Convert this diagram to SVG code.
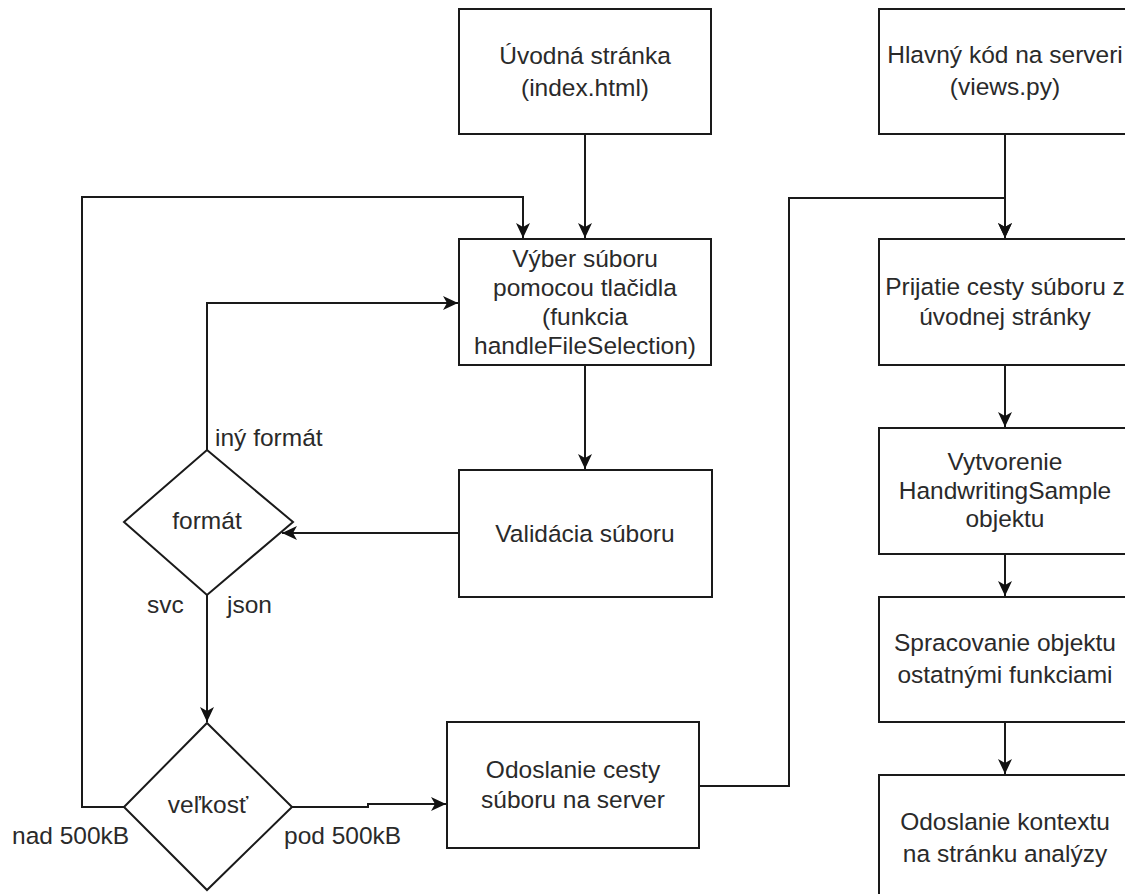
<svg xmlns="http://www.w3.org/2000/svg" width="1125" height="894" viewBox="0 0 1125 894">
<style>
.box{fill:#fff;stroke:#1a1a1a;stroke-width:2}
.t{font-family:"Liberation Sans",Arial,sans-serif;font-size:24.5px;fill:#2a2a2a;text-anchor:middle}
.l{font-family:"Liberation Sans",Arial,sans-serif;font-size:24.5px;fill:#2a2a2a}
.c{fill:none;stroke:#1a1a1a;stroke-width:2}
</style>
<defs>
<marker id="ah" markerUnits="userSpaceOnUse" markerWidth="16" markerHeight="14" refX="15" refY="7" orient="auto">
<path d="M0,0 L15,7 L0,14 L4,7 z" fill="#111"/>
</marker>
</defs>
<rect width="1125" height="894" fill="#fff"/>
<g id="connectors">
<path class="c" d="M585,134 V238" marker-end="url(#ah)"/>
<path class="c" d="M585,365 V469" marker-end="url(#ah)"/>
<path class="c" d="M459,533 H282" marker-end="url(#ah)"/>
<path class="c" d="M207,450 V303 H458" marker-end="url(#ah)"/>
<path class="c" d="M207,595 V722" marker-end="url(#ah)"/>
<path class="c" d="M124,807 H82 V197 H523 V238" marker-end="url(#ah)"/>
<path class="c" d="M292,807 H368 V804 H446" marker-end="url(#ah)"/>
<path class="c" d="M699,786 H789 V198 H1005 V238" marker-end="url(#ah)"/>
<path class="c" d="M1005,134 V238" marker-end="url(#ah)"/>
<path class="c" d="M1005,365 V427" marker-end="url(#ah)"/>
<path class="c" d="M1005,554 V596" marker-end="url(#ah)"/>
<path class="c" d="M1005,722 V774" marker-end="url(#ah)"/>
</g>
<g id="uvodna">
<rect class="box" x="459" y="9" width="252" height="125"/>
<text class="t" x="585" y="64">Úvodná stránka</text>
<text class="t" x="585" y="96">(index.html)</text>
</g>
<g id="vyber">
<rect class="box" x="459" y="239" width="252" height="126"/>
<text class="t" x="585" y="267">Výber súboru</text>
<text class="t" x="585" y="296">pomocou tlačidla</text>
<text class="t" x="585" y="325">(funkcia</text>
<text class="t" x="585" y="354">handleFileSelection)</text>
</g>
<g id="validacia">
<rect class="box" x="459" y="470" width="253" height="127"/>
<text class="t" x="585" y="542">Validácia súboru</text>
</g>
<g id="format">
<polygon class="box" points="207,450 293,522 207,595 124,522"/>
<text class="t" x="207" y="529">formát</text>
<text class="l" x="215" y="446">iný formát</text>
<text class="l" x="147" y="613">svc</text>
<text class="l" x="227" y="613">json</text>
</g>
<g id="velkost">
<polygon class="box" points="207,723 292,807 207,890 124,807"/>
<text class="t" x="208" y="813">veľkosť</text>
<text class="l" x="12" y="844">nad 500kB</text>
<text class="l" x="284" y="844">pod 500kB</text>
</g>
<g id="odoslanie-cesty">
<rect class="box" x="447" y="722" width="252" height="126"/>
<text class="t" x="573" y="778">Odoslanie cesty</text>
<text class="t" x="573" y="808">súboru na server</text>
</g>
<g id="hlavny">
<rect class="box" x="879" y="9" width="252" height="125"/>
<text class="t" x="1005" y="63">Hlavný kód na serveri</text>
<text class="t" x="1005" y="95">(views.py)</text>
</g>
<g id="prijatie">
<rect class="box" x="879" y="239" width="252" height="126"/>
<text class="t" x="1005" y="295">Prijatie cesty súboru z</text>
<text class="t" x="1005" y="325">úvodnej stránky</text>
</g>
<g id="vytvorenie">
<rect class="box" x="879" y="428" width="252" height="126"/>
<text class="t" x="1005" y="470">Vytvorenie</text>
<text class="t" x="1005" y="499">HandwritingSample</text>
<text class="t" x="1005" y="527">objektu</text>
</g>
<g id="spracovanie">
<rect class="box" x="879" y="597" width="252" height="125"/>
<text class="t" x="1005" y="651">Spracovanie objektu</text>
<text class="t" x="1005" y="683">ostatnými funkciami</text>
</g>
<g id="odoslanie-kontextu">
<rect class="box" x="879" y="775" width="252" height="126"/>
<text class="t" x="1005" y="830">Odoslanie kontextu</text>
<text class="t" x="1005" y="862">na stránku analýzy</text>
</g>
</svg>
